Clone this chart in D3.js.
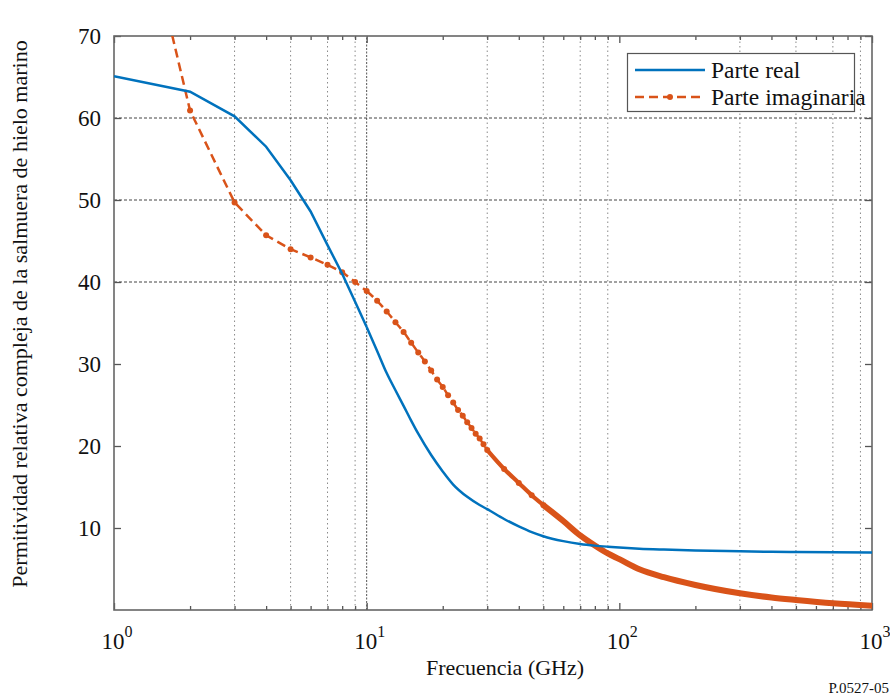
<!DOCTYPE html>
<html>
<head>
<meta charset="utf-8">
<script src="https://cdn.jsdelivr.net/npm/d3@7"></script>
</head>
<body style="margin:0; background:#fff">
<svg id="chart" width="890" height="699"></svg>
<script>
var width = 890;
var height = 699;
var margin = {left: 114, right: 18, top: 36, bottom: 89};
var serif = "'Liberation Serif'";

// real part, GHz -> value
var freqReal = [1, 2, 3, 4, 5, 6, 7, 8, 9, 10, 11, 12, 13, 14, 15, 16, 18, 20, 22, 25, 28, 30, 35, 40, 45, 50, 60, 70, 80, 90, 100, 120, 150, 200, 300, 400, 500, 700, 1000];
var realPart = [65.1, 63.2, 60.2, 56.5, 52.4, 48.6, 44.5, 41.0, 37.6, 34.5, 31.6, 28.9, 26.8, 24.9, 23.1, 21.5, 18.9, 16.9, 15.3, 13.8, 12.8, 12.3, 11.1, 10.2, 9.5, 9.0, 8.4, 8.05, 7.85, 7.72, 7.62, 7.48, 7.37, 7.26, 7.16, 7.1, 7.07, 7.03, 7.0];

// imaginary part
var freqImag = [1, 2, 3, 4, 5, 6, 7, 8, 9, 10, 11, 12, 13, 14, 15, 16, 17, 18, 19, 20, 21, 22, 23, 24, 25, 26, 27, 28, 29, 30, 35, 40, 45, 50, 60, 70, 80, 90, 100, 120, 150, 200, 300, 400, 500, 700, 1000];
var imagPart = [100, 60.9, 49.7, 45.7, 44.0, 43.0, 42.1, 41.2, 40.0, 38.9, 37.7, 36.4, 35.1, 33.9, 32.6, 31.4, 30.3, 29.2, 28.1, 27.2, 26.2, 25.3, 24.4, 23.7, 22.9, 22.2, 21.5, 20.9, 20.2, 19.5, 17.2, 15.5, 14.0, 12.8, 10.85, 9.1, 7.87, 6.9, 6.2, 4.97, 4.0, 3.05, 2.04, 1.52, 1.22, 0.82, 0.52];

var yTicks = [10, 20, 30, 40, 50, 60, 70];
var xDecades = [1, 10, 100, 1000];
var xExponents = ["0", "1", "2", "3"];
var gridXValues = [3, 5, 7, 9, 10, 30, 50, 70, 90, 300, 500, 700, 900];
var gridYValues = [40, 50, 60];
var denseFrom = 30;   // markers merge into a thick band from here on
var smoothFrom = 10;  // sampling gets dense enough to look smooth

var blue = "#0072BD";
var orange = "#D95319";

var svg = d3.select("#chart");

var x = d3.scaleLog().domain([1, 1000]).range([margin.left, width - margin.right]);
var y = d3.scaleLinear().domain([0, 70]).range([height - margin.bottom, margin.top]);

var minorTicks = [];
xDecades.slice(0, 3).forEach(function(d) {
    for (var k = 2; k <= 9; k++) minorTicks.push(d * k);
});

svg.append("defs").append("clipPath").attr("id", "plotClip")
    .append("rect")
    .attr("x", x.range()[0]).attr("y", y.range()[1])
    .attr("width", x.range()[1] - x.range()[0])
    .attr("height", y.range()[0] - y.range()[1]);

// grid
var grid = svg.append("g");
grid.selectAll("line.gx").data(gridXValues).enter().append("line")
    .attr("class", "gx")
    .attr("x1", function(d) {return x(d)}).attr("x2", function(d) {return x(d)})
    .attr("y1", y.range()[0]).attr("y2", y.range()[1])
    .attr("stroke", function(d) {return d == 10 ? "#555" : "#8a8a8a"})
    .attr("stroke-width", 1)
    .attr("stroke-dasharray", function(d) {return d == 10 ? "2,1.5" : "1.5,3"});
grid.selectAll("line.gy").data(gridYValues).enter().append("line")
    .attr("class", "gy")
    .attr("x1", x.range()[0]).attr("x2", x.range()[1])
    .attr("y1", function(d) {return y(d)}).attr("y2", function(d) {return y(d)})
    .attr("stroke", "#444")
    .attr("stroke-width", 1)
    .attr("stroke-dasharray", "3,2");

// axes box and ticks
function addXAxis(axisFn, yPos, values, size) {
    svg.append("g")
        .attr("transform", "translate(0," + yPos + ")")
        .call(axisFn(x).tickValues(values).tickSize(size).tickFormat(""))
        .call(function(g) {
            g.select(".domain").remove();
            g.selectAll("line").attr("stroke", "#555").attr("stroke-width", 1.3);
        });
}
addXAxis(d3.axisBottom, y.range()[0], minorTicks, -4);
addXAxis(d3.axisBottom, y.range()[0], xDecades, -7);
addXAxis(d3.axisTop, y.range()[1], minorTicks, -4);
addXAxis(d3.axisTop, y.range()[1], xDecades, -7);

function addYAxis(axisFn, xPos) {
    svg.append("g")
        .attr("transform", "translate(" + xPos + ",0)")
        .call(axisFn(y).tickValues(yTicks).tickSize(-7).tickFormat(""))
        .call(function(g) {
            g.select(".domain").remove();
            g.selectAll("line").attr("stroke", "#555").attr("stroke-width", 1.3);
        });
}
addYAxis(d3.axisLeft, x.range()[0]);
addYAxis(d3.axisRight, x.range()[1]);

svg.append("rect")
    .attr("x", x.range()[0]).attr("y", y.range()[1])
    .attr("width", x.range()[1] - x.range()[0])
    .attr("height", y.range()[0] - y.range()[1])
    .attr("fill", "none")
    .attr("stroke", "#666")
    .attr("stroke-width", 1.6);

function addText(parent, size) {
    return parent.append("text")
        .attr("font-size", size)
        .style("font-family", serif)
        .attr("fill", "#111");
}

// tick labels
yTicks.forEach(function(d) {
    addText(svg, 23)
        .attr("x", x.range()[0] - 13)
        .attr("y", y(d) + 8)
        .attr("text-anchor", "end")
        .text(d);
});

xDecades.forEach(function(d, i) {
    var t = addText(svg, 23)
        .attr("x", x(d) + 3)
        .attr("y", y.range()[0] + 39)
        .attr("text-anchor", "middle");
    t.append("tspan").text("10");
    t.append("tspan").attr("dy", -12).attr("font-size", 16).text(xExponents[i]);
});

// axis titles
addText(svg, 22)
    .attr("x", 505).attr("y", 675)
    .attr("text-anchor", "middle")
    .text("Frecuencia (GHz)");

addText(svg, 22)
    .attr("transform", "rotate(-90, 27, 314)")
    .attr("x", 27).attr("y", 314)
    .attr("text-anchor", "middle")
    .text("Permitividad relativa compleja de la salmuera de hielo marino");

addText(svg, 15)
    .attr("x", 889).attr("y", 693)
    .attr("text-anchor", "end")
    .text("P.0527-05");

// series
var plot = svg.append("g").attr("clip-path", "url(#plotClip)");

var realRows = freqReal.map(function(f, i) {return {f: f, v: realPart[i]}});
var imagRows = freqImag.map(function(f, i) {return {f: f, v: imagPart[i]}});

var lineStraight = d3.line()
    .x(function(d) {return x(d.f)})
    .y(function(d) {return y(d.v)})
    .curve(d3.curveLinear);
var lineSmooth = d3.line()
    .x(function(d) {return x(d.f)})
    .y(function(d) {return y(d.v)})
    .curve(d3.curveMonotoneX);

function drawSeries(rows, colour, dash) {
    var low = rows.filter(function(d) {return d.f <= smoothFrom});
    var high = rows.filter(function(d) {return d.f >= smoothFrom});
    [[low, lineStraight], [high, lineSmooth]].forEach(function(p) {
        plot.append("path")
            .datum(p[0])
            .attr("d", p[1])
            .attr("fill", "none")
            .attr("stroke", colour)
            .attr("stroke-width", 2.5)
            .attr("stroke-dasharray", dash);
    });
}

drawSeries(imagRows, orange, "9,5");

plot.append("path")
    .datum(imagRows.filter(function(d) {return d.f >= denseFrom && d.f <= 60}))
    .attr("d", lineSmooth)
    .attr("fill", "none")
    .attr("stroke", orange)
    .attr("stroke-width", 4.2);

plot.append("path")
    .datum(imagRows.filter(function(d) {return d.f >= 50}))
    .attr("d", lineSmooth)
    .attr("fill", "none")
    .attr("stroke", orange)
    .attr("stroke-width", 6);

plot.selectAll("circle.im").data(imagRows.filter(function(d) {return d.f <= denseFrom + 20})).enter().append("circle")
    .attr("class", "im")
    .attr("cx", function(d) {return x(d.f)})
    .attr("cy", function(d) {return y(d.v)})
    .attr("r", 3)
    .attr("fill", orange);

drawSeries(realRows, blue, null);

// legend
var legend = svg.append("g");
legend.append("rect")
    .attr("x", 627.5).attr("y", 53.5)
    .attr("width", 227).attr("height", 58)
    .attr("fill", "#fff")
    .attr("stroke", "#555")
    .attr("stroke-width", 1.2);
legend.append("line")
    .attr("x1", 635).attr("x2", 705).attr("y1", 70).attr("y2", 70)
    .attr("stroke", blue).attr("stroke-width", 2.5);
legend.append("line")
    .attr("x1", 635).attr("x2", 705).attr("y1", 97).attr("y2", 97)
    .attr("stroke", orange).attr("stroke-width", 2.5)
    .attr("stroke-dasharray", "9,5");
legend.append("circle")
    .attr("cx", 670).attr("cy", 97).attr("r", 3).attr("fill", orange);
addText(legend, 23.5).attr("x", 711).attr("y", 78).text("Parte real");
addText(legend, 23.5).attr("x", 711).attr("y", 105).text("Parte imaginaria");
</script>
</body>
</html>
